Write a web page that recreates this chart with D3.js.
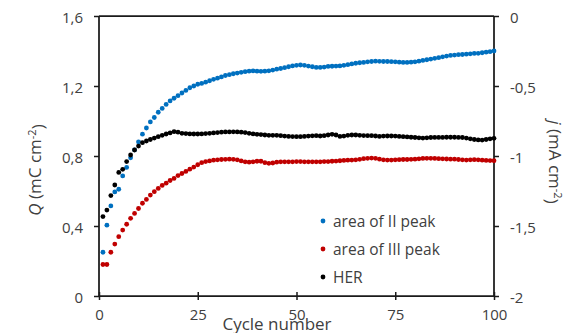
<!DOCTYPE html>
<html><head><meta charset="utf-8">
<script src="https://cdn.jsdelivr.net/npm/d3@7"></script>
<style>
html,body{margin:0;padding:0;background:#fff;}
svg{display:block;font-family:"Open Sans",sans-serif;}
</style></head>
<body>
<svg id="chart" width="574" height="333"></svg>
<script>
const cycles = d3.range(1, 101);
const areaII = [0.25,0.405,0.515,0.595,0.61,0.686,0.735,0.79,0.835,0.88,
0.925,0.96,0.995,1.02,1.05,1.072,1.095,1.115,1.13,1.145,
1.16,1.175,1.19,1.2,1.21,1.215,1.222,1.23,1.238,1.245,
1.252,1.26,1.265,1.27,1.274,1.278,1.282,1.285,1.286,1.285,
1.284,1.285,1.287,1.291,1.296,1.3,1.305,1.31,1.315,1.318,
1.32,1.318,1.314,1.31,1.306,1.306,1.308,1.312,1.313,1.314,
1.315,1.318,1.322,1.326,1.33,1.333,1.335,1.338,1.34,1.342,
1.341,1.34,1.34,1.339,1.338,1.336,1.335,1.335,1.336,1.338,
1.342,1.346,1.35,1.354,1.358,1.362,1.367,1.371,1.375,1.377,
1.379,1.38,1.382,1.384,1.386,1.387,1.39,1.393,1.396,1.4];
const areaIII = [0.18,0.18,0.25,0.297,0.339,0.377,0.41,0.444,0.472,0.5,
0.53,0.552,0.577,0.596,0.615,0.632,0.645,0.66,0.672,0.688,
0.7,0.712,0.725,0.737,0.75,0.762,0.768,0.772,0.776,0.778,
0.78,0.781,0.782,0.781,0.778,0.772,0.767,0.765,0.767,0.77,
0.77,0.762,0.758,0.76,0.765,0.767,0.767,0.767,0.767,0.768,
0.768,0.767,0.767,0.767,0.767,0.767,0.768,0.768,0.77,0.771,
0.773,0.775,0.776,0.777,0.778,0.781,0.785,0.787,0.788,0.787,
0.782,0.778,0.777,0.777,0.778,0.779,0.78,0.78,0.781,0.782,
0.784,0.786,0.787,0.787,0.786,0.785,0.784,0.783,0.782,0.782,
0.78,0.778,0.777,0.778,0.779,0.778,0.776,0.775,0.774,0.773];
const her = [-1.433,-1.386,-1.283,-1.207,-1.117,-1.095,-1.04,-0.993,-0.957,-0.929,
-0.905,-0.893,-0.882,-0.872,-0.862,-0.852,-0.843,-0.835,-0.826,-0.83,
-0.838,-0.84,-0.842,-0.843,-0.843,-0.842,-0.84,-0.838,-0.835,-0.833,
-0.83,-0.828,-0.828,-0.827,-0.828,-0.83,-0.833,-0.838,-0.842,-0.845,
-0.847,-0.85,-0.852,-0.852,-0.852,-0.855,-0.858,-0.86,-0.861,-0.862,
-0.862,-0.86,-0.858,-0.856,-0.855,-0.857,-0.855,-0.85,-0.845,-0.85,
-0.86,-0.858,-0.852,-0.85,-0.85,-0.852,-0.854,-0.855,-0.855,-0.857,
-0.86,-0.858,-0.857,-0.857,-0.858,-0.86,-0.862,-0.864,-0.866,-0.868,
-0.87,-0.872,-0.87,-0.868,-0.867,-0.867,-0.867,-0.866,-0.866,-0.866,
-0.867,-0.868,-0.872,-0.877,-0.882,-0.885,-0.886,-0.882,-0.877,-0.874];
const xTicks = [0, 25, 50, 75, 100];
const xTickLabels = ["0", "25", "50", "75", "100"];
const yLeftTicks = [0, 0.4, 0.8, 1.2, 1.6];
const yLeftTickLabels = ["0", "0,4", "0,8", "1,2", "1,6"];
const yRightTicks = [0, -0.5, -1, -1.5, -2];
const yRightTickLabels = ["0", "-0,5", "-1", "-1,5", "-2"];
const seriesNames = ["area of II peak", "area of III peak", "HER"];
const seriesColors = ["#0070C0", "#C00000", "#000000"];

const svg = d3.select("#chart");
const L = 99, R = 494, T = 16, B = 296;
const x = d3.scaleLinear().domain([0, 100]).range([L, R]);
const yL = d3.scaleLinear().domain([0, 1.6]).range([B, T]);
const yR = d3.scaleLinear().domain([-2, 0]).range([B, T]);
const axisColor = "#1a1a1a", textColor = "#404040";

svg.append("line").attr("x1", L).attr("x2", R).attr("y1", yL(1.6)).attr("y2", yL(1.6))
  .attr("stroke", axisColor).attr("stroke-width", 1.75);

const gL = svg.append("g").attr("transform", `translate(${L},0)`)
  .call(d3.axisLeft(yL).tickValues(yLeftTicks).tickSize(5)
    .tickFormat((d, i) => yLeftTickLabels[i]));
const gR = svg.append("g").attr("transform", `translate(${R},0)`)
  .call(d3.axisRight(yR).tickValues(yRightTicks).tickSize(5)
    .tickFormat((d, i) => yRightTickLabels[i]));
const gB = svg.append("g").attr("transform", `translate(0,${B})`)
  .call(d3.axisBottom(x).tickValues(xTicks).tickSize(4)
    .tickFormat((d, i) => xTickLabels[i]));
gB.selectAll(".tick line").attr("y1", -4).attr("y2", 4);

[gL, gR, gB].forEach(g => {
  g.select(".domain").attr("stroke", axisColor).attr("stroke-width", 1.75);
  g.selectAll(".tick line").attr("stroke", axisColor).attr("stroke-width", 1.5);
  g.selectAll(".tick text").attr("fill", textColor)
    .style("font-family", "'Open Sans',sans-serif").style("font-size", "15px");
});
gL.select(".domain").attr("d", `M0,${B}V${T}`);
gR.select(".domain").attr("d", `M0,${B}V${T}`);
gB.select(".domain").attr("d", `M${L},0H${R}`);
gL.selectAll(".tick text").attr("x", -16).attr("dy", "0.4em");
gR.selectAll(".tick text").attr("x", 16).attr("dy", "0.4em");
gB.selectAll(".tick text").attr("y", 13).attr("dy", "0.75em");

const data = [
  {vals: areaII, y: yL},
  {vals: areaIII, y: yL},
  {vals: her, y: yR}
];
data.forEach((s, k) => {
  svg.append("g").selectAll("circle").data(cycles).join("circle")
    .attr("cx", d => x(d))
    .attr("cy", (d, i) => s.y(s.vals[i]))
    .attr("r", 2.4)
    .attr("fill", seriesColors[k]);
});

const lg = svg.append("g");
seriesNames.forEach((n, i) => {
  const cy = 221 + i * 28;
  lg.append("circle").attr("cx", 323).attr("cy", cy).attr("r", 2.4).attr("fill", seriesColors[i]);
  lg.append("text").attr("x", 333).attr("y", cy + 5.5).attr("fill", textColor)
    .style("font-size", "15.5px").text(n);
});

svg.append("text").attr("x", 277).attr("y", 330).attr("text-anchor", "middle")
  .attr("fill", textColor).style("font-size", "17px").text("Cycle number");

const tL = svg.append("text").attr("transform", "translate(41,170) rotate(-90)")
  .attr("text-anchor", "middle").attr("fill", textColor).style("font-size", "17px");
tL.append("tspan").style("font-style", "italic").text("Q");
tL.append("tspan").text(" (mC cm");
tL.append("tspan").attr("dy", "-0.45em").style("font-size", "11px").text("-2");
tL.append("tspan").attr("dy", "0.45em").text(")");

const tR = svg.append("text").attr("transform", "translate(549,162) rotate(90)")
  .attr("text-anchor", "middle").attr("fill", textColor).style("font-size", "17px");
tR.append("tspan").style("font-style", "italic").text("j");
tR.append("tspan").text(" (mA cm");
tR.append("tspan").attr("dy", "-0.45em").style("font-size", "11px").text("-2");
tR.append("tspan").attr("dy", "0.45em").text(")");
</script>
</body></html>
